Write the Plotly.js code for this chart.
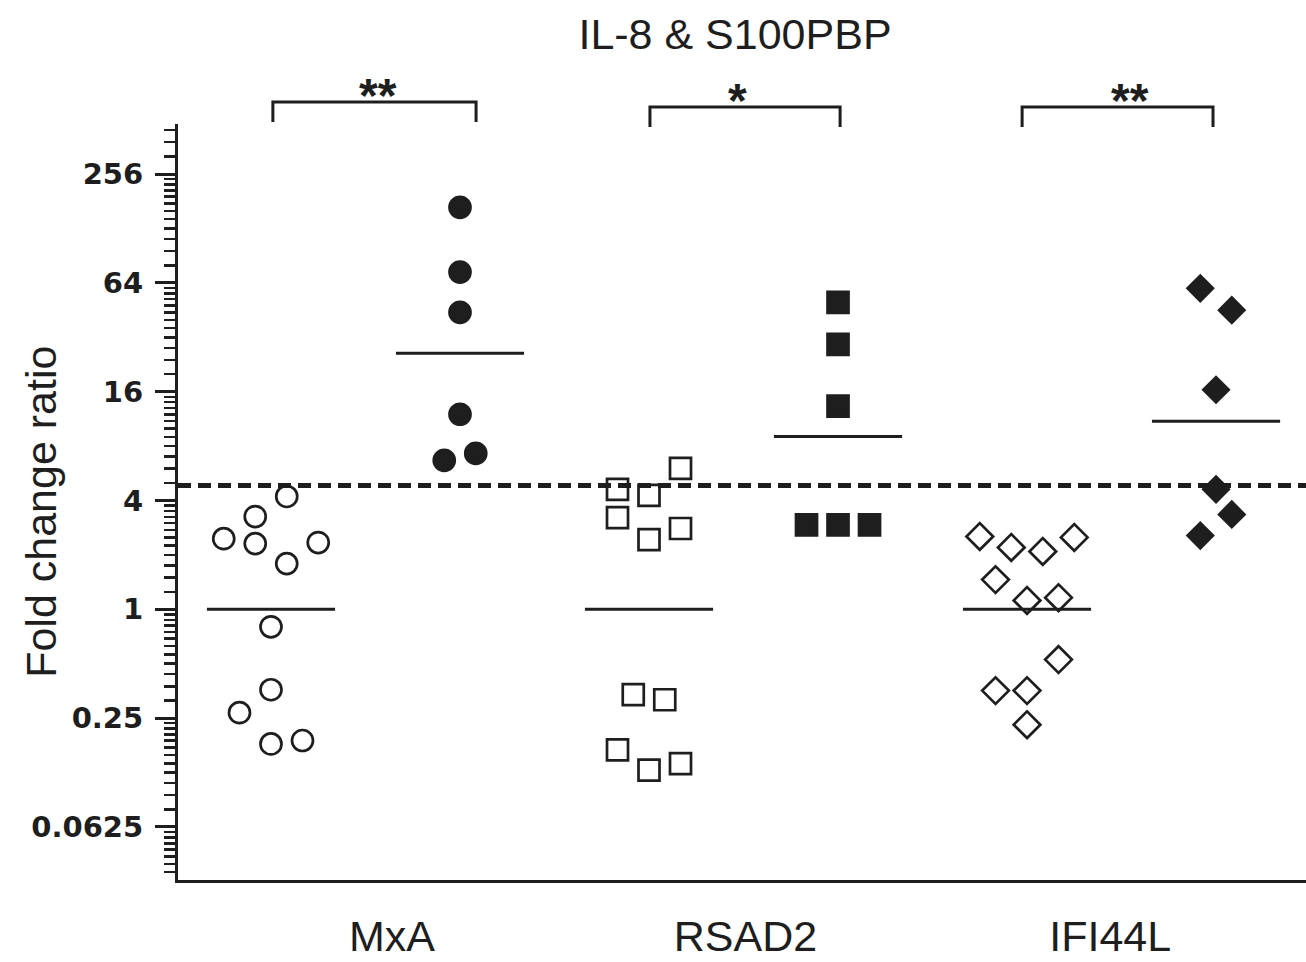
<!DOCTYPE html>
<html><head><meta charset="utf-8">
<script src="https://cdn.plot.ly/plotly-3.0.1.min.js"></script>
<style>html,body{margin:0;padding:0;background:#fff;}#chart{width:1306px;height:962px;}</style>
</head><body><div id="chart"></div>
<script>
// ---- data ----
const genes = ['MxA', 'RSAD2', 'IFI44L'];
const genePos = [0.64, 2.51, 4.44];

const mxaOpen = [4.21, 3.26, 2.46, 2.31, 2.34, 1.79, 0.80, 0.359, 0.268, 0.180, 0.188];
const mxaOpenSlot = [1, -1, -3, -1, 3, 1, 0, 0, -2, 0, 2];
const mxaFilled = [167.6, 73.4, 44.0, 12.0, 6.67, 7.29];
const mxaFilledSlot = [0, 0, 0, 0, -1, 1];

const rsad2Open = [6.02, 4.61, 4.27, 3.22, 2.80, 2.43, 0.337, 0.316, 0.167, 0.129, 0.140];
const rsad2OpenSlot = [2, -2, 0, -2, 2, 0, -1, 1, -2, 0, 2];
const rsad2Filled = [49.9, 29.2, 13.3, 2.93, 2.93, 2.93];
const rsad2FilledSlot = [0, 0, 0, -2, 0, 2];

const ifi44lOpen = [2.53, 2.20, 2.09, 2.50, 1.46, 1.12, 1.16, 0.527, 0.355, 0.355, 0.230];
const ifi44lOpenSlot = [-3, -1, 1, 3, -2, 0, 2, 2, -2, 0, 0];
const ifi44lFilled = [59.7, 45.2, 16.4, 4.61, 3.35, 2.56];
const ifi44lFilledSlot = [-1, 1, 0, 0, 1, -1];

const medians = [1, 26.1, 1, 9.05, 1, 10.97];
const cutoff = 4.85;
const significance = ['**', '*', '**'];

const yTickVals = [0.0625, 0.25, 1, 4, 16, 64, 256];
const yTickText = ['0.0625', '0.25', '1', '4', '16', '64', '256'];

// ---- styling ----
const INK = '#1e1e1e';
const SLOT = 1 / 12;
const HALF_MED = 0.339;
const XR = [-0.492, 5.476];

const groups = [
  {y: mxaOpen, s: mxaOpenSlot, sym: 'circle-open', size: 21},
  {y: mxaFilled, s: mxaFilledSlot, sym: 'circle', size: 21},
  {y: rsad2Open, s: rsad2OpenSlot, sym: 'square-open', size: 21},
  {y: rsad2Filled, s: rsad2FilledSlot, sym: 'square', size: 21},
  {y: ifi44lOpen, s: ifi44lOpenSlot, sym: 'diamond-open', size: 20.5},
  {y: ifi44lFilled, s: ifi44lFilledSlot, sym: 'diamond', size: 19.5}
];

const traces = [];
traces.push({
  x: XR, y: [cutoff, cutoff], mode: 'lines', hoverinfo: 'skip',
  line: {color: INK, width: 5, dash: '13px,7px'}
});
groups.forEach((g, i) => {
  traces.push({
    x: [i - HALF_MED, i + HALF_MED], y: [medians[i], medians[i]],
    mode: 'lines', hoverinfo: 'skip', line: {color: INK, width: 3}
  });
});
groups.forEach((g, i) => {
  traces.push({
    x: g.s.map(v => i + v * SLOT), y: g.y, mode: 'markers', cliponaxis: false,
    marker: {symbol: g.sym, size: g.size, color: INK, line: {color: INK, width: 2.7}}
  });
});

// minor ticks: linear steps of a quarter of each lower major value
const minorVals = [];
[1/256, 1/64, 1/16, 1/4, 1, 4, 16, 64, 256].forEach(m => {
  for (let k = 1; k <= 11; k++) minorVals.push(m * (1 + k / 4));
});

// significance brackets (paper y above the plot)
const brackets = [
  {x0: 0.01, x1: 1.085, top: 1.0291, bot: 1.0026, star: 0.566},
  {x0: 2.005, x1: 3.011, top: 1.0225, bot: 0.996, star: 2.466},
  {x0: 3.974, x1: 4.984, top: 1.0225, bot: 0.996, star: 4.545}
];
const shapes = brackets.map(b => ({
  type: 'path', xref: 'x', yref: 'paper',
  path: `M ${b.x0},${b.bot} L ${b.x0},${b.top} L ${b.x1},${b.top} L ${b.x1},${b.bot}`,
  line: {color: INK, width: 3}
}));
const annotations = brackets.map((b, i) => ({
  xref: 'x', yref: 'paper', x: b.star, y: b.top, yanchor: 'bottom', xanchor: 'center',
  text: significance[i], showarrow: false, yshift: -22,
  font: {size: 48, weight: 'bold', color: INK, family: 'Liberation Sans, Arial, sans-serif'}
}));
annotations.push({
  xref: 'paper', yref: 'paper', x: 0, y: 0.487, xshift: -137, xanchor: 'center', yanchor: 'middle',
  text: 'Fold change ratio', textangle: -90, showarrow: false,
  font: {size: 43, color: INK, family: 'Liberation Sans, Arial, sans-serif'}
});

const layout = {
  width: 1306, height: 962,
  margin: {l: 178, r: 0, t: 124, b: 82},
  paper_bgcolor: '#ffffff', plot_bgcolor: '#ffffff',
  showlegend: false,
  font: {family: 'Liberation Sans, Arial, sans-serif', color: INK},
  title: {
    text: 'IL-8 & S100PBP', font: {size: 43, color: INK},
    xref: 'container', x: 0.5628, xanchor: 'center',
    yref: 'container', y: 0.9647, yanchor: 'middle'
  },
  xaxis: {
    range: XR, showline: true, linewidth: 3, linecolor: INK, mirror: false,
    showgrid: false, zeroline: false, ticks: '',
    tickmode: 'array', tickvals: genePos, ticktext: genes,
    tickfont: {size: 43, color: INK}, ticklabelstandoff: 16, fixedrange: true
  },
  yaxis: {
    type: 'log', range: [-1.4976, 2.6852],
    showline: true, linewidth: 3, linecolor: INK,
    showgrid: false, zeroline: false,
    ticks: 'outside', ticklen: 20, tickwidth: 3, tickcolor: INK,
    tickmode: 'array', tickvals: yTickVals, ticktext: yTickText,
    tickfont: {family: 'DejaVu Sans, sans-serif', size: 29, weight: 'bold', color: INK},
    ticklabelstandoff: 6,
    minor: {tickmode: 'array', tickvals: minorVals, ticks: 'outside', ticklen: 11, tickwidth: 2.5, tickcolor: INK, showgrid: false},
    fixedrange: true
  },
  shapes: shapes,
  annotations: annotations
};

Plotly.newPlot('chart', traces, layout, {displayModeBar: false, staticPlot: true});
</script>
</body></html>
